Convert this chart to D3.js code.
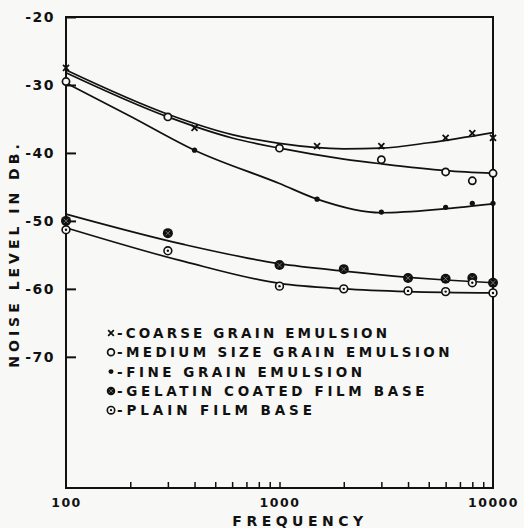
<!DOCTYPE html>
<html>
<head>
<meta charset="utf-8">
<script src="https://cdn.jsdelivr.net/npm/d3@7"></script>
<style>
  body { margin: 0; background: #f8f8f6; }
  svg { display: block; }
  text { font-family: "DejaVu Sans", sans-serif; font-weight: bold; fill: #111; }
</style>
</head>
<body>
<svg id="chart" width="524" height="528"></svg>
<script>
// measured points (frequency in c/s, noise level in db)
const coarseFreq = [100, 400, 1500, 3000, 6000, 8000, 10000];
const coarseDb = [-27.5, -36.3, -39.0, -39.0, -37.8, -37.1, -37.8];
const mediumFreq = [100, 300, 1000, 3000, 6000, 8000, 10000];
const mediumDb = [-29.5, -34.7, -39.3, -41.0, -42.8, -44.1, -43.0];
const fineFreq = [400, 1500, 3000, 6000, 8000, 10000];
const fineDb = [-39.6, -46.8, -48.7, -48.0, -47.4, -47.4];
const gelatinFreq = [100, 300, 1000, 2000, 4000, 6000, 8000, 10000];
const gelatinDb = [-50.0, -51.8, -56.5, -57.1, -58.4, -58.5, -58.4, -59.1];
const plainFreq = [100, 300, 1000, 2000, 4000, 6000, 8000, 10000];
const plainDb = [-51.3, -54.4, -59.6, -60.0, -60.3, -60.4, -59.1, -60.6];

// smooth curves drawn through the points
const coarseCurveFreq = [100, 300, 600, 1000, 2000, 3000, 5000, 10000];
const coarseCurveDb = [-27.8, -34.3, -37.3, -38.6, -39.4, -39.3, -38.5, -37.0];
const mediumCurveFreq = [100, 300, 600, 1000, 2000, 3000, 6000, 10000];
const mediumCurveDb = [-28.2, -34.7, -37.8, -39.3, -40.9, -41.6, -42.6, -43.0];
const fineCurveFreq = [100, 200, 400, 1000, 1500, 3000, 6000, 10000];
const fineCurveDb = [-29.7, -34.6, -39.6, -44.5, -46.8, -48.8, -48.2, -47.5];
const gelatinCurveFreq = [100, 360, 1000, 2000, 4000, 6000, 10000];
const gelatinCurveDb = [-49.0, -53.5, -56.3, -57.4, -58.3, -58.7, -59.1];
const plainCurveFreq = [100, 360, 1000, 2000, 4000, 10000];
const plainCurveDb = [-51.0, -56.0, -59.2, -60.0, -60.4, -60.6];

const yTicks = [-20, -30, -40, -50, -60, -70];
const xLabelTicks = [100, 1000, 10000];
const xMinorTicks = [200, 300, 400, 500, 600, 700, 800, 900, 1000, 2000, 3000, 4000, 5000, 6000, 7000, 8000, 9000];

const legendLabels = [
    "COARSE GRAIN EMULSION",
    "MEDIUM SIZE GRAIN EMULSION",
    "FINE GRAIN EMULSION",
    "GELATIN COATED FILM BASE",
    "PLAIN FILM BASE"
];

const ink = "#111";
const svg = d3.select("#chart");

const x = d3.scaleLog().domain([100, 10000]).range([66, 493]);
const y = d3.scaleLinear().domain([-20, -89.3]).range([17, 488]);

// frame
svg.append("rect")
    .attr("x", x(100))
    .attr("y", y(-20))
    .attr("width", x(10000) - x(100))
    .attr("height", y(-89.3) - y(-20))
    .attr("fill", "none")
    .attr("stroke", ink)
    .attr("stroke-width", 2);

// y axis, ticks pointing inside
const yAxis = svg.append("g")
    .attr("transform", `translate(${x(100)},0)`)
    .call(d3.axisLeft(y).tickValues(yTicks).tickSize(-10).tickPadding(11).tickFormat((d) => String(d)));
yAxis.select(".domain").remove();
yAxis.selectAll("line").attr("stroke", ink).attr("stroke-width", 2);
yAxis.selectAll("text").attr("font-size", 14).attr("letter-spacing", 1.5).attr("font-family", null).attr("fill", ink);

// x axis minor ticks
const xAxis = svg.append("g")
    .attr("transform", `translate(0,${y(-89.3)})`)
    .call(d3.axisBottom(x).tickValues(xMinorTicks).tickSize(-6).tickFormat(""));
xAxis.select(".domain").remove();
xAxis.selectAll("line").attr("stroke", ink).attr("stroke-width", 1.5);

const xLab = svg.append("g")
    .attr("transform", `translate(0,${y(-89.3)})`)
    .call(d3.axisBottom(x).tickValues(xLabelTicks).tickSize(0).tickPadding(10).tickFormat(d3.format("d")));
xLab.select(".domain").remove();
xLab.selectAll("text").attr("font-size", 12.5).attr("letter-spacing", 1.5).attr("font-family", null).attr("fill", ink);

// axis titles
svg.append("text")
    .attr("x", 300)
    .attr("y", 526)
    .attr("text-anchor", "middle")
    .attr("font-size", 14)
    .attr("letter-spacing", 4.5)
    .text("FREQUENCY");

svg.append("text")
    .attr("transform", "translate(19,254) rotate(-90)")
    .attr("text-anchor", "middle")
    .attr("font-size", 14)
    .attr("letter-spacing", 4)
    .text("NOISE LEVEL IN DB.");

// curves
const line = d3.line()
    .x((d) => x(d[0]))
    .y((d) => y(d[1]))
    .curve(d3.curveMonotoneX);

const curves = [
    d3.zip(coarseCurveFreq, coarseCurveDb),
    d3.zip(mediumCurveFreq, mediumCurveDb),
    d3.zip(fineCurveFreq, fineCurveDb),
    d3.zip(gelatinCurveFreq, gelatinCurveDb),
    d3.zip(plainCurveFreq, plainCurveDb)
];

svg.append("g")
    .selectAll("path")
    .data(curves)
    .join("path")
    .attr("d", line)
    .attr("fill", "none")
    .attr("stroke", ink)
    .attr("stroke-width", 1.7);

// marker drawing
function drawMarker(g, kind, scale) {
    const s = scale || 1;
    if (kind === "x") {
        const r = 3 * s;
        g.append("path")
            .attr("d", `M${-r},${-r}L${r},${r}M${-r},${r}L${r},${-r}`)
            .attr("stroke", ink).attr("stroke-width", 1.8);
    } else if (kind === "o") {
        g.append("circle").attr("r", 3.6 * s)
            .attr("fill", "#f8f8f6").attr("stroke", ink).attr("stroke-width", 1.7);
    } else if (kind === "dot") {
        g.append("circle").attr("r", 2.6 * s).attr("fill", ink);
    } else if (kind === "gel") {
        const r = 5 * s;
        g.append("circle").attr("r", r).attr("fill", ink);
        const k = r * 0.45;
        g.append("path")
            .attr("d", `M${-k},${-k}L${k},${k}M${-k},${k}L${k},${-k}`)
            .attr("stroke", "#888").attr("stroke-width", 0.8);
    } else if (kind === "plain") {
        g.append("circle").attr("r", 3.9 * s)
            .attr("fill", "#f8f8f6").attr("stroke", ink).attr("stroke-width", 1.6);
        g.append("circle").attr("r", 1.2 * s).attr("fill", ink);
    }
}

const series = [
    { kind: "x", freq: coarseFreq, db: coarseDb },
    { kind: "o", freq: mediumFreq, db: mediumDb },
    { kind: "dot", freq: fineFreq, db: fineDb },
    { kind: "gel", freq: gelatinFreq, db: gelatinDb },
    { kind: "plain", freq: plainFreq, db: plainDb }
];

series.forEach(function (s) {
    d3.zip(s.freq, s.db).forEach(function (p) {
        const g = svg.append("g").attr("transform", `translate(${x(p[0])},${y(p[1])})`);
        drawMarker(g, s.kind);
    });
});

// legend - hand lettering has an even pitch, so stretch each line to it
const legend = svg.append("g").attr("transform", "translate(111,333)");
series.forEach(function (s, i) {
    const label = "-" + legendLabels[i];
    const row = legend.append("g").attr("transform", `translate(0,${i * 19.3})`);
    drawMarker(row, s.kind, s.kind === "gel" ? 0.85 : 0.95);
    row.append("text")
        .attr("x", 6)
        .attr("y", 5)
        .attr("font-size", 13.5)
        .attr("textLength", label.length * 12.5 - 5)
        .attr("lengthAdjust", "spacing")
        .text(label);
});
</script>
</body>
</html>
